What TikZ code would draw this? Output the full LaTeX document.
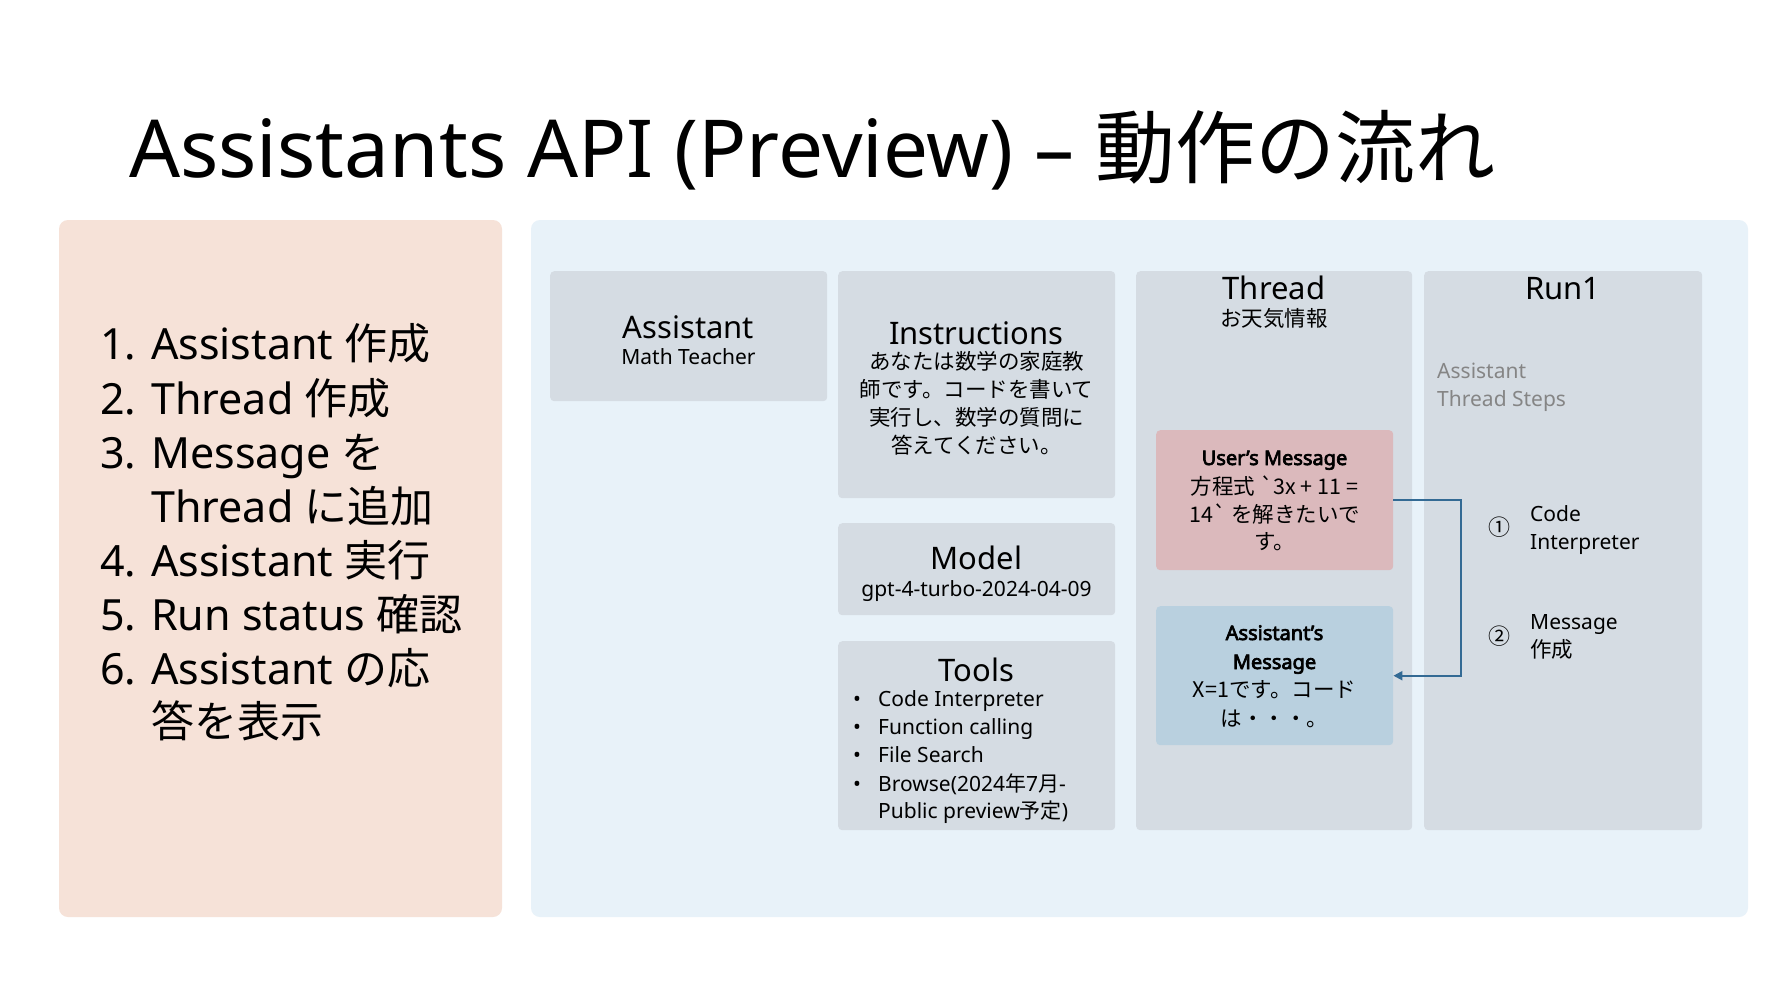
\documentclass[tikz,border=0pt]{standalone}
\usepackage{fontspec}
\setmainfont{Noto Sans}
\newfontfamily\jp{Noto Sans CJK JP}
\newfontfamily\heavy{Noto Sans}[FakeBold=3.5]
\usetikzlibrary{arrows.meta}

\definecolor{peach}{HTML}{F6E2D8}
\definecolor{paleblue}{HTML}{E8F2F9}
\definecolor{cardgray}{HTML}{D5DCE3}
\definecolor{userpink}{HTML}{DBB9BC}
\definecolor{asstblue}{HTML}{B9D0DF}
\definecolor{flowblue}{HTML}{336A94}
\definecolor{softgray}{HTML}{858585}

\tikzset{
  panel/.style={rounded corners=9pt, draw=none},
  card/.style={fill=cardgray, rounded corners=4pt, draw=none, inner sep=0pt, anchor=north west},
  txt/.style={anchor=base, inner sep=0pt},
  ltxt/.style={anchor=base west, inner sep=0pt},
  head/.style={txt, font=\fontsize{31}{37}\selectfont},
  sub/.style={txt, font=\fontsize{21}{28}\selectfont},
  jsub/.style={txt, font=\jp\fontsize{21.5}{28}\selectfont},
  boldsub/.style={txt, font=\heavy\fontsize{20}{28}\selectfont},
  listtxt/.style={ltxt, font=\fontsize{43}{54}\selectfont},
  flow/.style={draw=flowblue, line width=2pt, -{Triangle[length=9pt,width=9pt]}},
}

\begin{document}
\begin{tikzpicture}[x=1pt,y=-1pt]
\useasboundingbox[fill=white] (0,0) rectangle (1786,1002);

% title
\node[ltxt, font=\fontsize{80}{96}\selectfont] (title) at (129,177)
  {Assistants API (Preview) – {\jp 動作の流れ}};

% background panels
\fill[peach, panel] (59,220) rectangle (502,917);
\fill[paleblue, panel] (531,220) rectangle (1748,917);

% steps list
\node[listtxt] (n1) at (100,359) {1.};
\node[listtxt] (s1) at (151,359) {Assistant {\jp 作成}};
\node[listtxt] (n2) at (100,414) {2.};
\node[listtxt] (s2) at (151,414) {Thread {\jp 作成}};
\node[listtxt] (n3) at (100,468) {3.};
\node[listtxt] (s3) at (151,468) {Message {\jp を}};
\node[listtxt] (s3b) at (151,522) {Thread {\jp に追加}};
\node[listtxt] (n4) at (100,576) {4.};
\node[listtxt] (s4) at (151,576) {Assistant {\jp 実行}};
\node[listtxt] (n5) at (100,630) {5.};
\node[listtxt] (s5) at (151,630) {Run status {\jp 確認}};
\node[listtxt] (n6) at (100,684) {6.};
\node[listtxt] (s6) at (151,684) {Assistant {\jp の応}};
\node[listtxt] (s6b) at (151,737) {\jp 答を表示};

% cards
\node[card, minimum width=277pt, minimum height=130pt] (assistant) at (550,271) {};
\node[card, minimum width=277pt, minimum height=227pt] (instr) at (838,271) {};
\node[card, minimum width=277pt, minimum height=92pt] (model) at (838,523) {};
\node[card, minimum width=277pt, minimum height=189pt] (tools) at (838,641) {};
\node[card, minimum width=276pt, minimum height=559pt] (thread) at (1136,271) {};
\node[card, minimum width=278pt, minimum height=559pt] (run) at (1424,271) {};
\node[card, fill=userpink, minimum width=237pt, minimum height=140pt] (user) at (1156,430) {};
\node[card, fill=asstblue, minimum width=237pt, minimum height=139pt] (amsg) at (1156,606) {};

% assistant
\node[head] (assistantT) at (688.5,338) {Assistant};
\node[sub] (assistantS) at (688.5,364) {Math Teacher};

% instructions
\node[head] (instrT) at (976.5,344) {Instructions};
\node[jsub] (i1) at (976.5,369) {あなたは数学の家庭教};
\node[jsub] (i2) at (976.5,397) {師です。コードを書いて};
\node[jsub] (i3) at (976.5,425) {実行し、数学の質問に};
\node[jsub] (i4) at (976.5,453) {答えてください。};

% model
\node[head] (modelT) at (976.5,569) {Model};
\node[sub] (modelS) at (976.5,596) {gpt-4-turbo-2024-04-09};

% tools
\node[head] (toolsT) at (976.5,681) {Tools};
\foreach \y/\t [count=\k] in {706/Code Interpreter, 734/Function calling, 762/File Search, 791/{Browse(2024{\jp 年}7{\jp 月}-}}{
  \node[ltxt, font=\fontsize{21}{28}\selectfont] (b\k) at (853,\y) {•};
  \node[ltxt, font=\fontsize{21}{28}\selectfont] (t\k) at (878,\y) {\t};
}
\node[ltxt, font=\fontsize{21}{28}\selectfont] (t5) at (878,818) {Public preview{\jp 予定})};

% thread
\node[head] (threadT) at (1274,299) {Thread};
\node[jsub] (threadS) at (1274,326) {お天気情報};

% messages
\node[boldsub] (u0) at (1274.5,465) {User’s Message};
\node[jsub] (u1) at (1274.5,494) {方程式 `3x + 11 =};
\node[jsub] (u2) at (1274.5,522) {14` を解きたいで};
\node[jsub] (u3) at (1274.5,549) {す。};

\node[boldsub] (a0) at (1274.5,640) {Assistant’s};
\node[boldsub] (a1) at (1274.5,669) {Message};
\node[jsub] (a2) at (1274.5,697) {X=1です。コード};
\node[jsub] (a3) at (1274.5,726) {は・・・。};

% run
\node[head] (runT) at (1563,299) {Run1};
\node[ltxt, text=softgray, font=\fontsize{21}{28}\selectfont] (g1) at (1437,378) {Assistant};
\node[ltxt, text=softgray, font=\fontsize{21}{28}\selectfont] (g2) at (1437,406) {Thread Steps};

\node[inner sep=0pt, font=\jp\fontsize{22}{28}\selectfont] (c1) at (1499,527) {①};
\node[ltxt, font=\fontsize{21}{28}\selectfont] (r1a) at (1530,521) {Code};
\node[ltxt, font=\fontsize{21}{28}\selectfont] (r1b) at (1530,549) {Interpreter};
\node[inner sep=0pt, font=\jp\fontsize{22}{28}\selectfont] (c2) at (1499,636) {②};
\node[ltxt, font=\fontsize{21}{28}\selectfont] (r2a) at (1530,629) {Message};
\node[ltxt, font=\jp\fontsize{21.5}{28}\selectfont] (r2b) at (1530,657) {作成};

% flow from the user's message to the assistant's reply
\draw[flow] (user.east) -- ++(68,0) |- (amsg.east);
\end{tikzpicture}
\end{document}
